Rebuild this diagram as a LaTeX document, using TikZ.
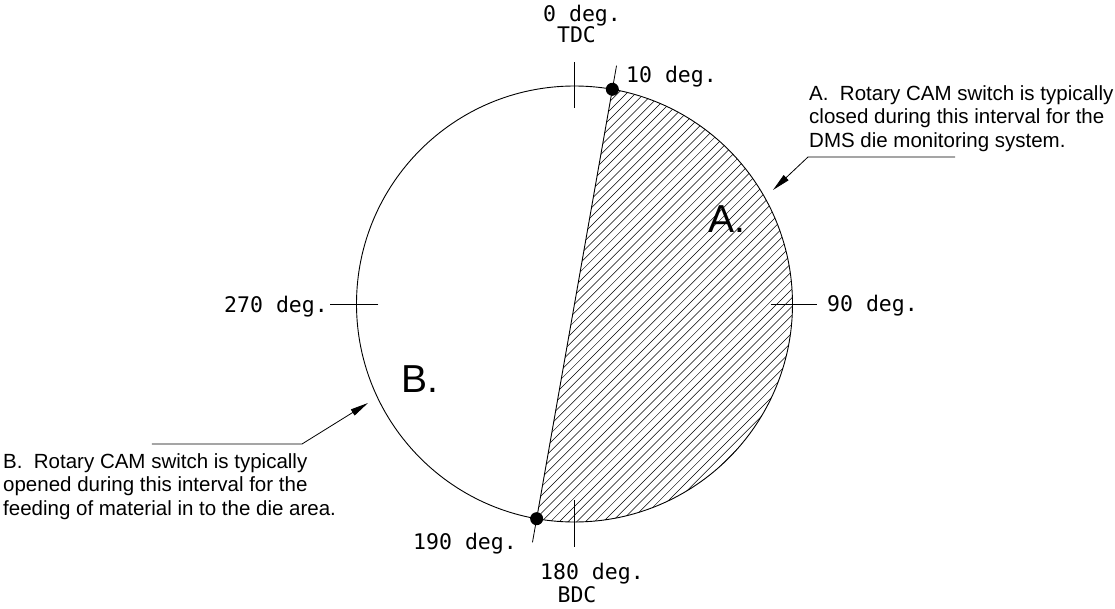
\documentclass[tikz,border=0pt]{standalone}
\usepackage{fontspec}
\setmainfont{Liberation Sans}
\newfontfamily\cadfont{DejaVu Sans Mono}
\usetikzlibrary{arrows.meta}

\begin{document}
\begin{tikzpicture}[
  x=1pt, y=1pt,
  deg/.style={font=\cadfont\fontsize{21.5}{24}\selectfont, inner sep=0pt},
  note/.style={font=\fontsize{20.5}{23.6}\selectfont, align=left, inner sep=0pt},
  big/.style={font=\fontsize{39}{42}\selectfont, inner sep=0pt},
  rim/.style={line width=0.9pt},
  tick/.style={line width=0.8pt},
  hatch/.style={line width=0.5pt},
  >={Triangle[length=18pt,width=7pt]}
]
  \useasboundingbox (-574.5,-304) rectangle (540.5,304);
  \def\R{218}

  \coordinate (c) at (0,0);
  \coordinate (p10) at (80:\R);
  \coordinate (p190) at (260:\R);

  % interval A, hatched
  \begin{scope}
    \clip (p10) -- (p190) arc[start angle=-100, end angle=80, radius=\R] -- cycle;
    \foreach \i in {0,...,82}
      \draw[hatch] (-60,{-500+\i*8.8}) -- (240,{-200+\i*8.8});
  \end{scope}
  \draw[rim] (p10) -- (p190);
  \draw[rim] (c) circle[radius=\R];

  % ticks
  \draw[tick] (90:196) -- (90:242);
  \draw[tick] (0:196) -- (0:242);
  \draw[tick] (180:196) -- (180:244);
  \draw[tick] (270:196) -- (270:243);
  \draw[tick] (p10) -- ++(80:24);
  \draw[tick] (p190) -- ++(260:24);
  \fill (p10) circle[radius=6.5];
  \fill (p190) circle[radius=6.5];

  % degree labels
  \node[deg, anchor=base west] (d0) at (-31.5,282) {0 deg.};
  \node[deg, anchor=base] (tdc) at (2,261) {TDC};
  \node[deg, anchor=base west] (d10) at (51.5,221) {10 deg.};
  \node[deg, anchor=base west] (d90) at (252.5,-7) {90 deg.};
  \node[deg, anchor=base east] (d270) at (-246.5,-8) {270 deg.};
  \node[deg, anchor=base east] (d190) at (-57.5,-245) {190 deg.};
  \node[deg, anchor=base west] (d180) at (-34.5,-275) {180 deg.};
  \node[deg, anchor=base] (bdc) at (2.5,-298) {BDC};

  % region letters
  \node[big] (bigA) at (152,85) {A.};
  \node[big] (bigB) at (-155,-75) {B.};

  % notes
  \node[note, anchor=north west] (noteA) at (234.5,219)
    {A.\ \ Rotary CAM switch is typically\\closed during this interval for the\\DMS die monitoring system.};
  \node[note, anchor=north west] (noteB) at (-571.5,-149)
    {B.\ \ Rotary CAM switch is typically\\opened during this interval for the\\feeding of material in to the die area.};

  \coordinate (aEnd) at (380.5,147);
  \coordinate (aKnee) at (233.5,147);
  \coordinate (aTip) at (198.5,114);
  \draw[tick,->] (aEnd) -- (aKnee) -- (aTip);
  \coordinate (bEnd) at (-422.5,-140);
  \coordinate (bKnee) at (-272.5,-140);
  \coordinate (bTip) at (-206.5,-99);
  \draw[tick,->] (bEnd) -- (bKnee) -- (bTip);
\end{tikzpicture}
\end{document}
